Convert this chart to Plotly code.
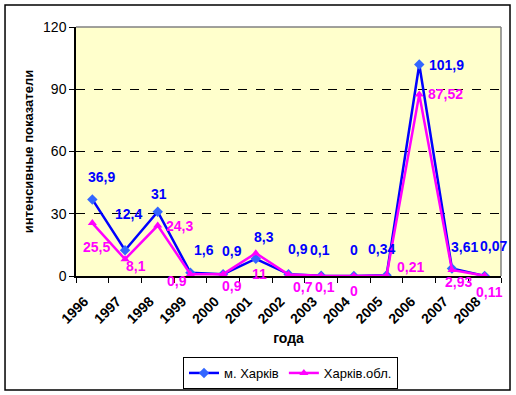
import plotly.graph_objects as go

years = ["1996", "1997", "1998", "1999", "2000", "2001", "2002",
         "2003", "2004", "2005", "2006", "2007", "2008"]
city = [36.9, 12.4, 31, 1.6, 0.9, 8.3, 0.9, 0.1, 0, 0.34, 101.9, 3.61, 0.07]
region = [25.5, 8.1, 24.3, 0.9, 0.9, 11, 0.7, 0.1, 0, 0.21, 87.52, 2.93, 0.11]
y_ticks = [0, 30, 60, 90, 120]

# label offsets (pixels, style only)
city_off = [(9, 22), (3, 36), (1, 18), (14, 23), (9, 23), (8, 22), (9, 25),
            (-1, 26), (0, 26), (-5, 26), (27, 0), (13, 22), (9, 30)]
region_off = [(4, -24), (11, -7), (22, 0), (-13, -7), (9, -12), (4, -21), (14, -12),
              (4, -11), (0, -15), (24, 9), (26, 0), (7, -12), (5, -16)]

FONT = "Liberation Sans, Arial, sans-serif"
BLUE_LINE = "#0000FF"
BLUE_MARK = "#3366FF"
MAG = "#FF00FF"

def fmt(v):
    return f"{v:g}".replace(".", ",")

fig = go.Figure()
fig.add_trace(go.Scatter(
    x=years, y=city, name="м. Харків", mode="lines+markers",
    line=dict(color=BLUE_LINE, width=2.5),
    marker=dict(symbol="diamond", size=8, color=BLUE_MARK),
))
fig.add_trace(go.Scatter(
    x=years, y=region, name="Харків.обл.", mode="lines+markers",
    line=dict(color=MAG, width=2.5),
    marker=dict(symbol="triangle-up", size=8, color=MAG),
))

annotations = []
for i, (v, (dx, dy)) in enumerate(zip(city, city_off)):
    annotations.append(dict(x=i, y=v, xref="x", yref="y", text=fmt(v), showarrow=False,
                            xshift=dx, yshift=dy, xanchor="center", yanchor="middle",
                            font=dict(family=FONT, size=14, color="#0000FF", weight="bold")))
for i, (v, (dx, dy)) in enumerate(zip(region, region_off)):
    annotations.append(dict(x=i, y=v, xref="x", yref="y", text=fmt(v), showarrow=False,
                            xshift=dx, yshift=dy, xanchor="center", yanchor="middle",
                            font=dict(family=FONT, size=14, color=MAG, weight="bold")))

shapes = [
    # outer chart border
    dict(type="rect", xref="paper", yref="paper", x0=-0.167, x1=1.0212, y0=-0.4578, y1=1.0884,
         line=dict(color="black", width=1.5), layer="below"),
    # top and right plot border (gray)
    dict(type="line", xref="paper", yref="paper", x0=0, x1=1, y0=1, y1=1,
         line=dict(color="#808080", width=1.5), layer="above"),
    dict(type="line", xref="paper", yref="paper", x0=1, x1=1, y0=0, y1=1,
         line=dict(color="#808080", width=1.5), layer="above"),
]

fig.update_layout(
    width=516, height=395,
    margin=dict(l=76, r=15, t=27, b=119, autoexpand=False),
    paper_bgcolor="white", plot_bgcolor="#FFFFCC",
    font=dict(family=FONT, size=14, color="black"),
    showlegend=True,
    legend=dict(orientation="h", x=(183 - 76) / 425, y=(276 - 357) / 249,
                xanchor="left", yanchor="top",
                bordercolor="black", borderwidth=1, bgcolor="white",
                font=dict(family=FONT, size=13), itemwidth=30,
                tracegroupgap=0),
    annotations=annotations,
    shapes=shapes,
    xaxis=dict(
        type="category", range=[-0.5, 12.5], tickson="boundaries", automargin=False,
        ticks="outside", ticklen=5, tickcolor="black",
        showline=True, linecolor="black", linewidth=1.5,
        showgrid=False, tickangle=-45, ticklabelstandoff=10, ticklabelshift=-8,
        tickfont=dict(family=FONT, size=14, weight="bold"),
        title=dict(text="года", font=dict(family=FONT, size=14, weight="bold"), standoff=8),
    ),
    yaxis=dict(
        range=[0, 120], tickvals=y_ticks, automargin=False,
        ticks="outside", ticklen=5, tickcolor="black",
        showline=True, linecolor="black", linewidth=1.5,
        showgrid=True, gridcolor="black", griddash="dash", gridwidth=1,
        zeroline=False,
        tickfont=dict(family=FONT, size=14),
        title=dict(text="интенсивные показатели",
                   font=dict(family=FONT, size=13, weight="bold"), standoff=7),
    ),
)

fig.write_html("out.html", config={"displayModeBar": False},
               post_script="document.body.style.margin='0';")
